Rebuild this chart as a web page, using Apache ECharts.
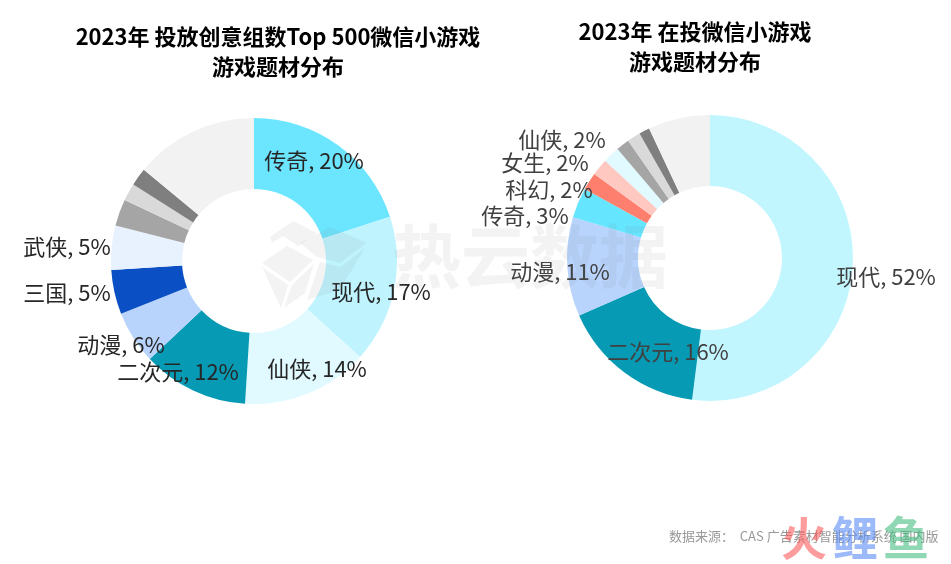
<!DOCTYPE html>
<html><head><meta charset="utf-8">
<style>html,body{margin:0;padding:0;background:#fff}#c{width:951px;height:564px}</style>
<script src="https://cdn.jsdelivr.net/npm/echarts@6/dist/echarts.min.js"></script>
</head><body><div id="c"></div>
<script>
const leftNames = ['传奇','现代','仙侠','二次元','动漫','三国','武侠','','','',''];
const leftValues = [20,16.7,14.3,12,6,5,5,3,2,2,14];
const leftColors = ['#6ce6ff','#bff4ff','#e0faff','#079ab5','#b8d4fc','#0a50c4','#e8f1fe','#a5a5a5','#d9d9d9','#7f7f7f','#f2f2f2'];
const leftLabelPos = [[314,161],[381,292],[317,369],[178,372],[121,345],[67,293],[67,247]];

const rightNames = ['现代','二次元','动漫','传奇','科幻','女生','仙侠','','','',''];
const rightValues = [52,16.4,11.2,3.4,2,1.9,1.9,1.5,1.5,1.2,7];
const rightColors = ['#c2f6ff','#079ab5','#b8d4fc','#66e5ff','#ff7f6e','#ffc9c2','#e0faff','#a5a5a5','#d9d9d9','#7f7f7f','#f2f2f2'];
const rightLabelPos = [[886,277],[668,352],[560,272],[525,216],[549,190],[545,163],[562,140]];

const FONT = '"Noto Sans CJK SC","Noto Sans",sans-serif';
function pie(names, values, colors, pos, cx, cy, labelColor) {
  return {
    type:'pie', center:[cx,cy], radius:[72,143], startAngle:90, clockwise:true, animation:false, silent:true,
    label:{show:true, position:'inside', fontFamily:FONT, fontSize:22, color:labelColor,
      formatter:p=>p.name+', '+Math.round(p.value)+'%'},
    labelLine:{show:false},
    labelLayout:p=>{const q=pos[p.dataIndex];return q?{x:q[0],y:q[1],align:'center',verticalAlign:'middle',hideOverlap:false}:{};},
    data:values.map((v,i)=>({value:v,name:names[i]||(' '.repeat(i+1)),
      itemStyle:{color:colors[i]},label:{show:!!names[i]}}))
  };
}
const chart = echarts.init(document.getElementById('c'));
const wm = 'rgba(120,120,120,0.09)';
chart.setOption({
  backgroundColor:'#fff',
  animation:false,
  title:[
    {text:'2023年 投放创意组数Top 500微信小游戏\n游戏题材分布',left:273,top:17,textAlign:'center',
     textStyle:{fontFamily:FONT,fontSize:22,fontWeight:'bold',color:'#000',lineHeight:30}},
    {text:'2023年 在投微信小游戏\n游戏题材分布',left:690,top:12,textAlign:'center',
     textStyle:{fontFamily:FONT,fontSize:22,fontWeight:'bold',color:'#000',lineHeight:30}}
  ],
  series:[
    pie(leftNames,leftValues,leftColors,leftLabelPos,254,261,'#262626'),
    pie(rightNames,rightValues,rightColors,rightLabelPos,710,258,'#404040')
  ],
  graphic:[
    {type:'polygon',z:50,silent:true,shape:{points:[[270,237],[293,221],[317,233],[298,246],[283,236],[272,243]]},style:{fill:wm}},
    {type:'polygon',z:50,silent:true,shape:{points:[[262,263],[287,246],[313,260],[290,282]]},style:{fill:wm}},
    {type:'polygon',z:50,silent:true,shape:{points:[[262,267],[288,285],[281,308]]},style:{fill:wm}},
    {type:'polygon',z:50,silent:true,shape:{points:[[292,285],[314,264],[305,293],[284,308]]},style:{fill:wm}},
    {type:'polygon',z:50,silent:true,shape:{points:[[300,243],[330,227],[367,243],[340,263],[317,257]]},style:{fill:wm}},
    {type:'polygon',z:50,silent:true,shape:{points:[[320,262],[340,267],[365,248],[340,290],[307,300]]},style:{fill:wm}},
    {type:'text',z:50,silent:true,left:392,top:222,style:{text:'热云数据',font:'bold 69px "Noto Sans CJK SC"',fill:wm}},
    {type:'text',z:60,silent:true,left:669,top:530,style:{text:'数据来源：  CAS 广告素材智能分析系统 国内版',font:'13px "Noto Sans CJK SC"',fill:'#999999'}},
    {type:'text',z:61,silent:true,left:781,top:515,style:{text:'火',font:'bold 46px "Noto Sans CJK SC"',fill:'rgba(250,90,90,0.6)'}},
    {type:'text',z:61,silent:true,left:832,top:515,style:{text:'鲤',font:'bold 46px "Noto Sans CJK SC"',fill:'rgba(90,140,245,0.6)'}},
    {type:'text',z:61,silent:true,left:883,top:515,style:{text:'鱼',font:'bold 46px "Noto Sans CJK SC"',fill:'rgba(70,190,130,0.6)'}}
  ]
});
</script></body></html>
